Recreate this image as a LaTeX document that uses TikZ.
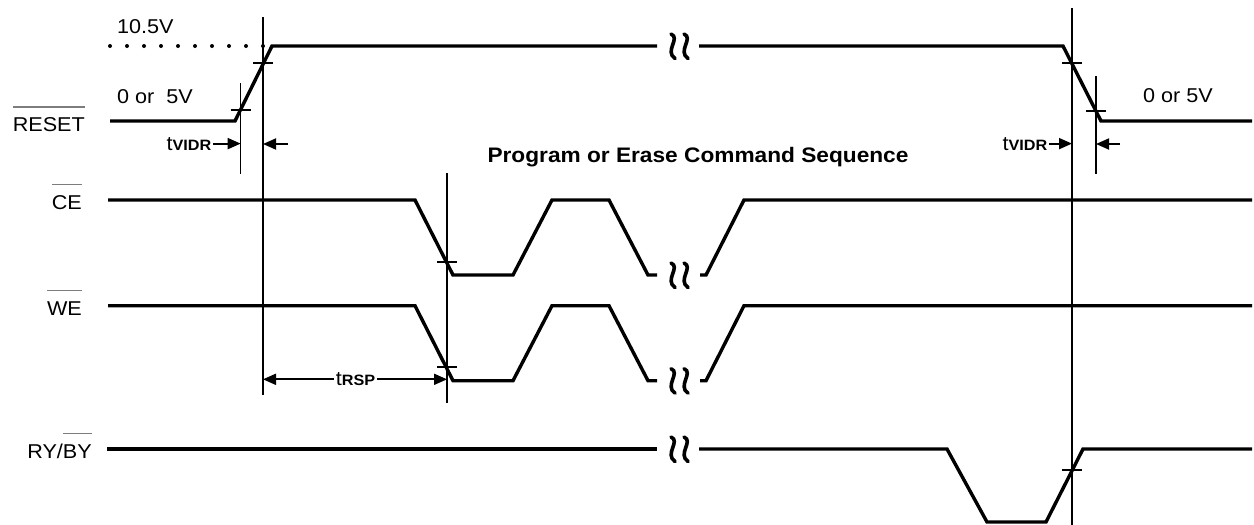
\documentclass[tikz,border=0pt]{standalone}
\usepackage{fontspec}
\setmainfont{Liberation Sans}
\usepackage{graphicx}
\usetikzlibrary{calc,positioning,arrows.meta}
\definecolor{barGris}{RGB}{125,125,125}

\newlength{\barlen}
\newcommand{\sigbar}[1]{\settowidth{\barlen}{#1}\rlap{\textcolor{barGris}{\rule[24pt]{\barlen}{1.5pt}}}#1}
\newcommand{\ancho}[1]{\scalebox{1.08}[1]{#1}}
\newcommand{\tsub}[2]{\ancho{#1{\fontsize{15}{15}\selectfont\bfseries #2}}}
\newcommand{\tic}[2]{\draw[marca] (#1-10,#2) -- (#1+10,#2);}

\tikzset{
  senal/.style={line width=3.4pt},
  guia/.style={line width=1.4pt},
  marca/.style={line width=1.4pt},
  cota/.style={line width=1.8pt, -{Triangle[length=13pt,width=11pt]}},
  rotulo/.style={font=\fontsize{20}{24}\selectfont, inner sep=0pt},
  cortelinea/.style={line width=3.6pt, line cap=round},
  corte/.pic={
    \draw[cortelinea] (-9,-12) .. controls (1,-8) and (-16,5) .. (-5,12.5);
    \draw[cortelinea] (4,-12) .. controls (14,-8) and (-3,5) .. (8,12.5);
  }
}

\begin{document}
\begin{tikzpicture}[x=1pt, y=-1pt]
  \useasboundingbox (0,0) rectangle (1254,525);
  % Signal names
  \node[rotulo, anchor=base east] (lblreset) at (85,131.7) {\ancho{\sigbar{RESET}}};
  \node[rotulo, anchor=base east] (lblce) at (82,209) {\ancho{\sigbar{CE}}};
  \node[rotulo, anchor=base east] (lblwe) at (82,315) {\ancho{\sigbar{WE}}};
  \node[rotulo, anchor=base east] (lblry) at (92,458) {\ancho{RY/\sigbar{BY}}};
  % Levels
  \node[rotulo, anchor=base west] (v105) at (117,33) {\ancho{10.5V}};
  \node[rotulo, anchor=base west] (vlowa) at (117,103) {\ancho{0 or\ \ 5V}};
  \node[rotulo, anchor=base west] (vlowb) at (1143,102) {\ancho{0 or 5V}};
  \node[rotulo, font=\fontsize{21}{24}\selectfont\bfseries, anchor=base] (titulo) at (698,162)
    {\ancho{Program or Erase Command Sequence}};
  % Dotted 10.5V level
  \foreach \k in {0,...,9}
    \fill (110+\k*17,46) circle (2pt);
  % RESET
  \draw[senal] (110,121) -- (235,121) -- (272,46) -- (657,46);
  \draw[senal] (699,46) -- (1063,46) -- (1101,121) -- (1252,121);
  \pic at (680,46) {corte};
  % CE
  \draw[senal] (108,200) -- (415,200) -- (453,275) -- (513,275) -- (552,200)
    -- (609,200) -- (648,275) -- (657,275);
  \draw[senal] (700,275) -- (706,275) -- (744,200) -- (1252,200);
  \pic at (680,275) {corte};
  % WE
  \draw[senal] (108,305.7) -- (415,305.7) -- (453,380.7) -- (513,380.7) -- (552,305.7)
    -- (609,305.7) -- (648,380.7) -- (657,380.7);
  \draw[senal] (700,380.7) -- (706,380.7) -- (744,305.7) -- (1252,305.7);
  \pic at (680,380.7) {corte};
  % RY/BY
  \draw[senal] (107,449) -- (657,449);
  \draw[senal] (699,449) -- (947,449) -- (987,522) -- (1046,522) -- (1083,449) -- (1252,449);
  \pic at (680,449) {corte};
  % Timing guides
  \coordinate (g1a) at (263,17);     \coordinate (g1b) at (263,395);
  \coordinate (g2a) at (240.7,83);   \coordinate (g2b) at (240.7,174);
  \coordinate (g3a) at (447,173);    \coordinate (g3b) at (447,403);
  \coordinate (g4a) at (1072,8);     \coordinate (g4b) at (1072,525);
  \coordinate (g5a) at (1096,76);    \coordinate (g5b) at (1096,174);
  \foreach \a/\b in {g1a/g1b,g2a/g2b,g3a/g3b,g4a/g4b,g5a/g5b}
    \draw[guia] (\a) -- (\b);
  % Crossing marks
  \tic{263}{63}
  \tic{240.7}{110}
  \tic{447}{262}
  \tic{447}{367}
  \tic{1072}{63}
  \tic{1096}{111}
  \tic{1072}{470}
  % tVIDR (left)
  \node[rotulo, inner xsep=1.5pt, anchor=base east] (tvidra) at (213,150) {\tsub{t}{VIDR}};
  \draw[cota] (tvidra.east) -- (tvidra.east -| g2a);
  \coordinate (fla) at (288,144);
  \draw[cota] (fla) -- (fla -| g1a);
  % tVIDR (right)
  \node[rotulo, inner xsep=1.5pt, anchor=base east] (tvidrb) at (1049,150) {\tsub{t}{VIDR}};
  \draw[cota] (tvidrb.east) -- (tvidrb.east -| g4a);
  \coordinate (flb) at (1120,144);
  \draw[cota] (flb) -- (flb -| g5a);
  % tRSP
  \node[rotulo, inner xsep=1.5pt, anchor=base] (trsp) at (355.5,385.7) {\tsub{t}{RSP}};
  \draw[cota] (trsp.west) -- (trsp.west -| g1a);
  \draw[cota] (trsp.east) -- (trsp.east -| g3a);
\end{tikzpicture}
\end{document}
